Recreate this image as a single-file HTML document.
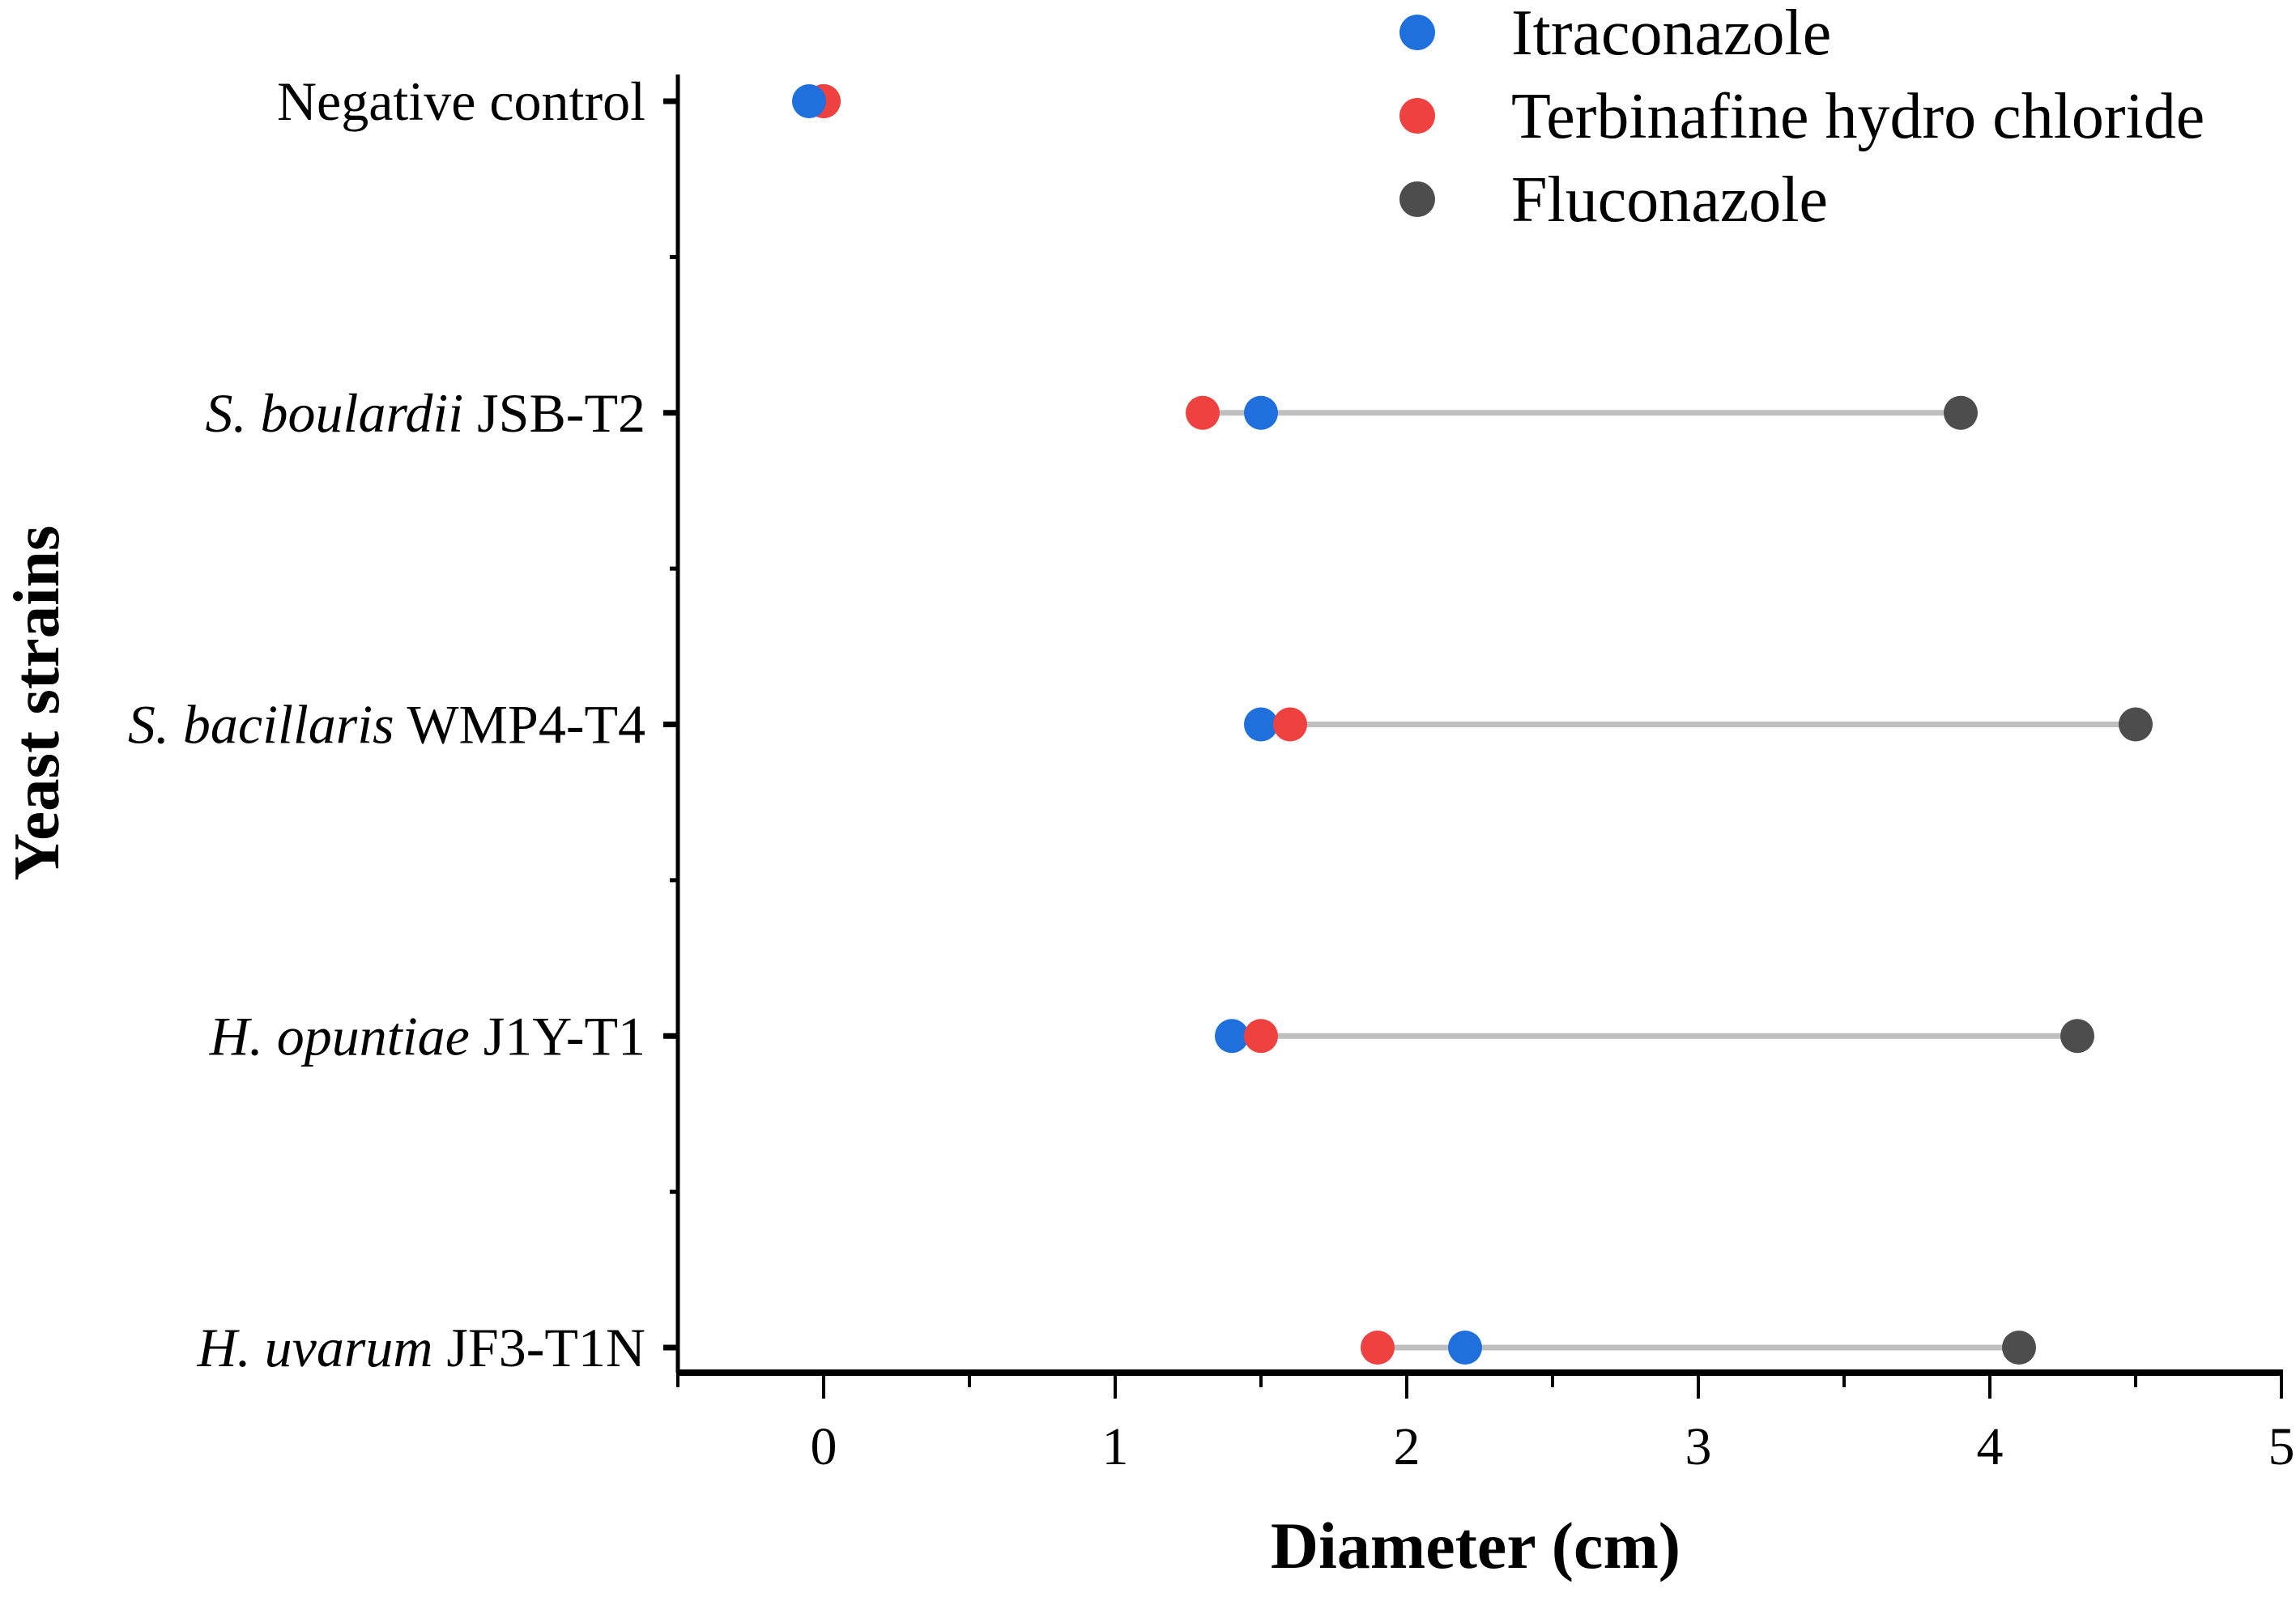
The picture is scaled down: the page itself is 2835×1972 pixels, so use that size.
<!DOCTYPE html>
<html><head><meta charset="utf-8"><style>
html,body{margin:0;padding:0;background:#fff;}
svg{display:block;font-family:"Liberation Serif",serif;}
</style></head><body>
<svg id="chart" width="2835" height="1972" viewBox="0 0 2835 1972" xmlns="http://www.w3.org/2000/svg">
<g id="axes"></g>
<g id="marks"></g>
<g id="legend"></g>
<text x="1822" y="1936" font-size="82" font-weight="bold" text-anchor="middle">Diameter (cm)</text>
<text transform="translate(72,868) rotate(-90)" font-size="81" font-weight="bold" text-anchor="middle">Yeast strains</text>
</svg>
<script>
const categories = ["Negative control","S. boulardii JSB-T2","S. bacillaris WMP4-T4","H. opuntiae J1Y-T1","H. uvarum JF3-T1N"];
const italicParts = ["", "S. boulardii", "S. bacillaris", "H. opuntiae", "H. uvarum"];
const itraconazole = [-0.05, 1.5, 1.5, 1.4, 2.2];
const terbinafine = [0.0, 1.3, 1.6, 1.5, 1.9];
const fluconazole = [0.0, 3.9, 4.5, 4.3, 4.1];
const xTicks = [0,1,2,3,4,5];
const seriesNames = ["Itraconazole","Terbinafine hydro chloride","Fluconazole"];

const NS="http://www.w3.org/2000/svg";
const X0=837, X1=2817, xmin=-0.5, xmax=5;
const x = v => X0 + (v - xmin) / (xmax - xmin) * (X1 - X0);
const yTop=125, yStep=384.75;
const y = i => yTop + i * yStep;
const axisY=1695;
function mk(tag, attrs, parent){const e=document.createElementNS(NS,tag);for(const k in attrs)e.setAttribute(k,attrs[k]);parent.appendChild(e);return e;}
const axes=document.getElementById('axes'), marks=document.getElementById('marks'), legend=document.getElementById('legend');

let ya=mk('line',{x1:X0,y1:92,x2:X0,y2:axisY,stroke:'#000','stroke-width':5},axes);


let xa=mk('line',{x1:X0-2,y1:axisY,x2:X1+2,y2:axisY,stroke:'#000','stroke-width':8},axes);


for(let v=-0.5; v<=5.001; v+=0.5){
  const major = Math.abs(v-Math.round(v))<1e-6;
  const t=mk('line',{x1:x(v),y1:axisY,x2:x(v),y2:axisY+(major?32:18),stroke:'#000','stroke-width':4},axes);
  
  
}
xTicks.forEach(v=>{
  const t=mk('text',{x:x(v),y:1808,'font-size':66,'text-anchor':'middle'},axes);
  t.textContent=v;
  
  
});
categories.forEach((c,i)=>{
  const t=mk('line',{x1:X0-18,y1:y(i),x2:X0,y2:y(i),stroke:'#000','stroke-width':7},axes);
  
  
  if(i<categories.length-1){
    const m=mk('line',{x1:X0-10,y1:y(i)+yStep/2,x2:X0,y2:y(i)+yStep/2,stroke:'#000','stroke-width':5},axes);
    
    
  }
  const lab=mk('text',{x:X0-40,y:y(i)+23,'font-size':68,'text-anchor':'end'},axes);
  
  
  const it=italicParts[i];
  if(it){
    const s1=mk('tspan',{'font-style':'italic'},lab); s1.textContent=it;
    const s2=mk('tspan',{},lab); s2.textContent=' '+c.slice(it.length+1);
  } else lab.textContent=c;
});
const colors={itra:'#1f6fdc',terb:'#f04141',flu:'#4d4d4d'};
categories.forEach((c,i)=>{
  const vals=[itraconazole[i],terbinafine[i],fluconazole[i]];
  const ln=mk('line',{x1:x(Math.min(...vals)),y1:y(i),x2:x(Math.max(...vals)),y2:y(i),stroke:'#bfbfbf','stroke-width':7},marks);
  
  
  const d3=mk('circle',{cx:x(fluconazole[i]),cy:y(i),r:21,fill:colors.flu},marks);
  
  
  const d2=mk('circle',{cx:x(terbinafine[i]),cy:y(i),r:21,fill:colors.terb},marks);
  
  
  const d1=mk('circle',{cx:x(itraconazole[i]),cy:y(i),r:21,fill:colors.itra},marks);
  
  
  if(i>0 && terbinafine[i]>itraconazole[i]) marks.appendChild(d2);
});
const lc=[colors.itra,colors.terb,colors.flu];
seriesNames.forEach((n,k)=>{
  const ly=40+k*103;
  const m=mk('circle',{cx:1750,cy:ly,r:22,fill:lc[k]},legend);
  
  
  const t=mk('text',{x:1866,y:ly+27,'font-size':80},legend);
  t.textContent=n;
  
  
});
</script>
</body></html>
